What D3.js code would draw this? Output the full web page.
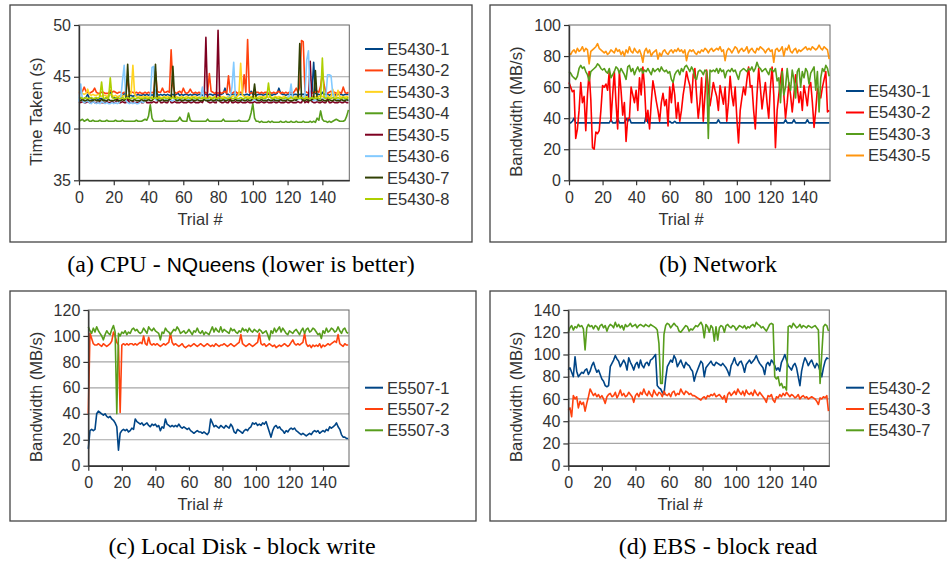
<!DOCTYPE html>
<html lang="en">
<head>
<meta charset="UTF-8">
<title>Instance performance variation</title>
<script src="https://d3js.org/d3.v7.min.js"></script>
<style>
  body { margin: 0; background: #fff; }
  svg text { font-family: "Liberation Sans", Arial, sans-serif; fill: #333; }
  .caption { font-family: "Liberation Serif", "Times New Roman", serif; fill: #000; }
</style>
</head>
<body>
<svg width="947" height="561"></svg>
<script>
const trials = d3.range(156);

// (a) CPU - NQueens, time taken (s)
const cpuNames = ["E5430-1", "E5430-2", "E5430-3", "E5430-4", "E5430-5", "E5430-6", "E5430-7", "E5430-8"];
const cpuE1 = [42.9,42.9,42.8,42.9,43.0,43.3,42.9,42.9,42.8,42.9, 42.9,42.8,42.9,42.9,42.8,42.9,43.0,43.1,43.5,43.1,
  43.0,42.9,43.0,43.1,43.2,43.1,43.4,43.2,43.1,43.2, 43.2,43.1,43.2,43.2,43.3,43.2,43.2,43.3,43.2,43.3,
  43.2,43.3,43.2,43.3,43.7,43.3,43.2,43.3,43.2,43.3, 43.2,43.3,43.2,43.2,43.3,43.2,43.3,43.4,43.2,43.3,
  43.2,43.3,43.3,43.2,43.3,43.2,43.3,43.3,43.2,43.3, 43.3,43.2,43.3,43.3,43.2,43.3,43.3,43.2,43.3,43.3,
  43.2,43.3,43.3,43.4,43.9,43.3,43.3,43.2,43.3,43.3, 43.3,43.2,43.3,43.3,43.3,43.2,43.3,43.3,43.2,43.6,
  43.3,43.3,43.2,43.3,43.3,43.3,43.2,43.3,43.3,43.3, 43.3,43.2,43.3,43.3,43.4,43.9,43.4,43.3,43.3,43.2,
  43.3,43.3,43.3,43.2,43.3,43.3,43.2,43.3,43.3,43.3, 43.3,43.2,43.3,43.6,43.4,46.4,43.4,43.3,43.3,43.2,
  43.5,43.3,43.3,43.3,43.2,43.3,43.3,43.3,43.2,43.3, 43.3,43.3,43.2,43.3,43.3,43.3];
const cpuE2 = [43.4,43.5,43.6,44.0,43.6,43.5,43.4,43.5,43.6,43.9, 43.5,43.4,43.4,43.5,43.5,43.4,43.4,43.4,43.7,43.5,
  43.6,43.5,43.4,43.5,43.5,43.4,43.5,43.5,44.8,43.6, 43.5,43.5,43.4,43.5,43.4,43.5,43.4,43.4,43.5,43.4,
  43.5,43.4,43.5,43.4,45.5,43.6,43.5,43.5,43.9,43.5, 43.5,43.6,43.5,47.6,44.2,43.5,43.4,43.5,43.6,43.4,
  43.9,43.5,43.4,43.5,43.8,43.5,43.4,43.5,43.4,43.5, 43.4,43.5,43.6,43.4,43.5,45.3,43.6,43.5,43.4,43.5,
  43.4,43.5,43.4,43.5,43.6,43.4,45.1,43.5,43.4,43.5, 43.6,43.4,43.5,43.5,43.4,45.2,43.5,48.6,43.5,43.4,
  43.5,43.4,43.5,43.5,43.4,43.5,43.4,43.5,43.5,43.4, 43.5,43.4,43.5,43.4,43.5,43.6,43.4,43.5,43.4,43.5,
  43.4,43.5,43.5,43.4,43.6,43.9,43.5,44.0,48.5,48.4, 43.6,43.5,43.4,43.5,43.4,43.5,43.5,43.6,43.5,44.1,
  45.4,44.2,43.5,43.4,43.5,43.6,43.4,43.5,43.4,43.5, 43.5,43.4,44.0,43.5,43.4,43.5];
const cpuE3 = [43.5,43.6,43.4,43.3,43.4,43.8,43.3,43.2,43.3,43.2, 43.2,43.3,43.2,43.1,43.2,43.2,43.1,43.2,43.3,43.2,
  43.1,43.2,43.1,43.1,43.2,43.1,43.2,43.1,43.2,43.3, 43.4,46.1,43.3,43.1,43.0,43.1,43.0,43.1,43.0,43.1,
  43.0,43.1,43.0,43.1,43.2,43.0,43.1,43.0,43.0,43.1, 43.0,43.1,43.0,43.0,43.1,43.0,43.1,43.0,43.0,43.1,
  43.0,43.0,43.1,43.0,43.0,43.1,43.0,43.1,43.0,43.0, 43.1,43.0,43.1,43.0,43.0,43.1,43.0,43.0,43.1,43.0,
  43.0,43.1,43.0,43.1,43.0,43.0,43.1,43.0,43.1,43.2, 43.0,43.1,43.3,46.3,43.2,43.1,43.0,43.1,43.0,43.1,
  43.0,43.1,43.0,43.0,43.1,43.0,43.1,43.0,43.1,43.0, 43.1,43.0,43.0,43.1,43.0,43.1,43.0,43.0,43.1,43.0,
  43.0,43.1,43.0,43.1,43.0,43.1,43.0,43.1,43.0,43.0, 43.1,43.0,43.1,43.0,43.1,43.0,43.1,43.0,43.1,43.2,
  43.1,43.0,43.1,43.2,43.0,43.1,43.8,43.1,43.0,43.7, 43.1,43.0,43.1,43.0,43.1,43.0];
const cpuE4 = [40.7,40.8,40.9,40.7,40.8,40.9,40.7,40.7,40.8,40.7, 40.7,40.7,40.8,40.7,40.7,40.7,40.8,40.7,40.7,40.7,
  40.7,40.8,40.7,40.7,40.7,40.8,40.7,40.7,40.7,40.7, 40.7,40.7,40.7,40.8,40.7,40.7,40.7,40.8,40.9,40.8,
  41.2,42.3,41.0,40.7,40.7,40.7,40.7,40.7,40.7,40.8, 40.7,40.7,40.7,40.7,40.7,40.7,40.7,40.8,41.1,40.8,
  40.7,40.7,40.7,41.5,40.8,40.7,40.7,40.7,40.7,40.7, 40.7,40.7,40.7,40.7,40.9,40.7,40.7,40.7,40.7,40.7,
  40.7,40.7,40.7,40.9,40.7,40.7,40.7,40.7,40.7,40.7, 40.7,40.7,40.8,40.7,40.7,40.7,40.7,40.7,40.9,41.5,
  42.4,41.0,40.7,40.7,40.6,40.7,40.6,40.6,40.6,40.7, 40.6,40.7,40.6,40.6,40.6,40.6,40.7,40.6,40.6,40.7,
  40.6,40.6,40.7,40.6,40.6,40.7,40.6,40.6,40.6,40.7, 40.6,40.6,40.6,40.7,40.6,40.7,40.6,41.0,40.8,41.7,
  40.9,40.7,40.7,40.6,40.7,40.6,40.7,40.8,40.9,40.8, 40.7,40.7,40.7,40.8,41.2,41.8];
const cpuE5 = [42.6,42.5,42.6,42.5,42.5,42.6,42.5,42.5,42.6,42.5, 42.5,42.5,42.6,42.5,42.5,42.5,42.6,42.5,42.5,42.6,
  42.5,42.5,42.9,42.5,42.5,42.6,42.5,42.5,42.9,42.5, 42.5,42.6,42.5,42.5,42.5,42.6,42.5,42.5,42.9,42.5,
  42.5,42.5,42.5,42.6,42.5,42.5,42.9,42.5,42.5,42.6, 42.5,42.5,42.9,42.5,42.5,42.6,42.5,42.5,42.5,42.6,
  42.5,42.5,42.5,42.6,42.5,42.5,42.6,42.5,42.5,42.5, 42.6,42.5,42.9,48.8,42.6,42.5,42.5,42.6,42.5,42.5,
  49.5,42.6,42.5,42.5,42.6,42.5,42.5,42.9,42.5,42.5, 42.6,42.5,42.5,42.6,42.5,42.5,42.5,42.6,42.5,42.5,
  42.5,42.6,42.5,42.5,42.5,42.6,42.5,42.5,42.6,42.5, 42.5,42.5,42.6,42.5,42.5,42.6,42.5,42.5,42.5,42.6,
  42.5,42.5,42.6,42.5,42.5,42.5,42.6,42.5,42.5,42.9, 42.5,42.6,42.5,46.5,42.6,42.5,42.5,42.6,42.5,42.5,
  42.6,42.5,42.5,42.9,42.5,42.5,42.6,42.5,42.5,42.5, 42.6,42.5,42.5,42.6,42.5,42.5];
const cpuE6 = [42.6,44.3,42.7,42.5,42.6,42.7,42.5,42.4,42.6,42.5, 42.4,42.5,42.4,42.6,42.5,42.4,42.5,42.4,42.4,42.5,
  42.4,42.5,42.4,42.5,42.8,44.6,46.1,42.7,42.5,42.4, 42.5,42.4,42.5,42.4,42.4,42.5,42.6,42.5,42.8,42.7,
  42.8,42.9,45.9,46.0,42.8,42.7,42.8,42.7,42.8,42.7, 42.8,42.7,42.8,42.7,42.7,42.8,42.7,42.8,42.7,42.8,
  42.7,42.8,42.7,42.8,42.7,42.7,42.8,42.7,42.8,42.9, 43.1,44.0,42.8,42.7,42.8,42.7,42.8,42.7,42.8,42.7,
  42.8,42.7,42.8,42.7,42.8,42.9,43.0,43.1,44.0,46.4, 42.9,42.8,42.7,42.8,42.7,42.8,42.7,42.8,42.7,42.8,
  42.7,42.8,42.7,42.8,42.7,42.8,42.7,42.8,42.7,42.8, 42.7,42.8,42.7,42.8,42.7,42.8,42.7,42.8,42.7,42.9,
  43.0,43.1,44.3,42.9,42.8,42.7,42.8,42.9,42.8,42.9, 43.3,46.6,47.5,42.9,42.8,42.7,42.8,42.7,42.8,42.9,
  42.8,42.9,43.0,45.2,45.2,45.1,43.3,42.8,42.7,42.8, 42.7,42.8,42.7,42.8,42.7,42.8];
const cpuE7 = [42.7,42.7,42.8,42.7,42.7,42.8,42.7,42.7,42.7,42.8, 42.7,42.7,42.7,42.8,42.7,42.7,42.7,42.8,42.7,42.7,
  42.7,42.8,42.7,42.7,42.7,42.8,42.7,42.9,46.2,42.8, 42.7,42.7,42.8,42.7,42.7,42.7,42.8,42.7,42.7,42.7,
  42.8,42.7,42.7,42.9,46.2,42.8,42.7,42.7,42.8,42.7, 42.7,42.7,42.8,42.9,46.0,43.0,42.7,42.7,42.8,42.7,
  42.7,42.8,42.7,42.7,42.7,42.8,42.7,42.7,42.8,42.7, 42.7,42.7,42.8,42.7,42.7,42.7,42.8,42.7,42.7,42.8,
  42.7,42.7,42.7,42.8,42.7,42.7,42.8,42.7,42.7,42.7, 42.8,42.7,42.7,42.7,42.8,42.7,42.7,42.8,42.7,42.7,
  42.9,44.3,42.8,42.7,42.7,42.8,42.7,42.7,42.7,42.8, 42.7,42.7,42.8,42.7,42.7,42.7,42.8,42.7,42.7,42.7,
  42.8,42.7,42.7,42.7,42.8,42.7,43.0,48.2,42.9,42.7, 42.7,42.8,42.7,42.7,42.8,42.9,45.6,42.8,42.7,42.7,
  42.8,42.7,42.7,42.7,42.8,42.7,42.7,42.8,42.7,42.7, 42.7,42.8,42.7,42.7,42.8,42.7];
const cpuE8 = [42.9,43.0,42.9,42.9,43.0,42.9,42.9,43.0,42.9,42.9, 43.0,42.9,43.1,44.5,42.9,42.9,43.0,42.9,44.9,43.0,
  42.9,42.9,43.0,42.9,42.9,43.0,42.9,42.9,43.0,42.9, 42.9,43.0,42.9,42.9,43.0,42.9,42.9,42.9,43.0,42.9,
  42.9,43.0,42.9,42.9,43.0,42.9,43.0,42.9,42.9,43.0, 42.9,42.9,43.0,42.9,43.0,42.9,42.9,43.0,42.9,42.9,
  43.0,42.9,42.9,43.0,42.9,42.9,43.0,42.9,42.9,43.0, 42.9,42.9,43.0,42.9,42.9,43.0,42.9,42.9,43.0,42.9,
  42.9,43.0,42.9,42.9,43.0,42.9,42.9,43.0,42.9,42.9, 43.0,42.9,42.9,43.0,42.9,42.9,43.0,42.9,42.9,43.0,
  42.9,42.9,43.0,42.9,42.9,43.0,42.9,42.9,43.0,44.4, 43.0,42.9,42.9,43.0,42.9,42.9,43.0,42.9,42.9,43.0,
  42.9,42.9,43.0,42.9,42.9,43.0,42.9,42.9,43.0,42.9, 42.9,43.0,42.9,42.9,43.0,42.9,42.9,43.0,42.9,42.9,
  46.8,43.0,42.9,43.0,42.9,42.9,43.0,42.9,42.9,43.0, 42.9,42.9,43.0,42.9,42.9,43.0];

// (b) Network bandwidth (MB/s)
const netNames = ["E5430-1", "E5430-2", "E5430-3", "E5430-5"];
const netE1 = [37,37,38,40,37,37,37,37,37,37, 37,37,37,37,37,37,37,37,37,37, 37,37,37,37,37,39,37,37,37,40,
  37,37,37,37,40,38,40,37,37,37, 37,37,37,37,37,37,42,37,37,37, 37,37,37,37,37,37,37,37,37,37,
  38,37,37,38,37,37,37,37,37,37, 37,37,37,37,37,37,37,37,37,37, 37,37,37,37,37,37,37,37,37,39,
  37,37,37,37,37,37,37,37,37,37, 37,37,37,37,37,37,37,37,37,37, 37,37,37,37,37,37,37,37,37,37,
  37,37,37,37,37,37,37,37,37,39, 37,37,37,37,39,37,37,37,37,37, 37,37,39,37,37,37,37,37,37,37,
  37,37,37,37,37,37];
const netE2 = [63,60,57,58,27,33,45,63,50,54, 32,55,70,52,21,20,31,30,32,45, 61,60,62,58,70,38,55,70,50,33,
  70,58,42,50,25,40,40,60,55,50, 58,45,66,55,73,60,38,45,33,50, 64,58,51,45,38,50,56,48,52,35,
  60,50,63,55,40,50,38,45,55,62, 70,65,61,50,68,72,55,40,50,66, 38,55,71,60,48,55,63,58,54,45,
  61,55,49,60,38,50,67,55,48,60, 40,24,45,53,60,55,65,73,60,61, 45,33,55,72,60,46,55,63,50,40,
  60,73,55,21,45,55,65,72,55,40, 50,63,55,44,55,68,60,50,57,45, 61,55,48,60,63,50,34,45,59,55,
  53,60,65,70,44,45];
const netE3 = [70,69,67,66,65,67,72,74,72,73, 70,68,64,70,71,72,73,75,74,72, 71,72,70,69,72,66,68,70,73,72,
  69,72,70,68,65,73,74,70,72,68, 71,73,70,72,69,71,70,72,70,68, 72,70,71,72,70,73,71,70,71,69,
  70,65,63,68,70,71,68,72,70,73, 74,72,70,73,71,66,65,70,71,70, 68,71,70,27,71,70,71,70,72,69,
  72,70,71,66,70,71,70,72,70,71, 68,65,70,71,72,71,70,72,71,73, 70,72,76,73,72,70,71,72,70,68,
  72,71,70,72,64,66,50,70,55,60, 72,62,58,71,65,53,70,72,60,70, 66,72,70,62,69,71,73,58,70,44,
  66,72,70,74,72,67];
const netE5 = [82,81,83,84,82,85,83,84,86,83, 85,84,75,83,84,85,86,88,85,84, 83,82,83,81,82,84,83,82,85,83,
  84,81,83,80,84,82,86,83,82,85, 83,82,84,81,76,83,85,82,84,80, 82,83,84,78,82,80,83,84,82,81,
  83,84,82,84,83,85,83,84,82,84, 77,82,84,83,84,82,81,83,82,84, 83,85,84,82,84,85,83,84,85,84,
  86,83,84,77,83,85,84,82,84,86, 85,82,84,85,83,84,86,82,84,85, 83,82,85,84,86,85,84,82,84,85,
  83,84,76,84,85,83,84,86,80,85, 84,87,83,82,84,85,82,84,83,84, 85,86,84,85,84,86,85,84,85,87,
  85,84,86,85,84,78];

// (c) Local disk block write (MB/s)
const diskNames = ["E5507-1", "E5507-2", "E5507-3"];
const diskE1 = [13,27,28,27,28,40,42,41,40,39, 40,38,37,38,36,35,33,30,12,25, 27,28,27,28,26,27,29,28,36,34,
  33,32,33,31,32,33,31,30,32,31, 32,30,31,27,30,29,36,32,31,30, 31,30,31,30,32,30,29,30,29,28,
  29,27,26,25,26,27,26,26,25,26, 25,24,26,36,33,30,31,30,29,31, 30,29,31,30,29,32,30,26,25,28,
  27,26,25,27,28,27,29,30,33,32, 33,31,32,31,33,32,34,30,26,22, 27,30,31,29,30,28,27,25,27,26,
  28,29,28,29,27,26,25,24,25,24, 23,24,25,24,26,27,26,27,25,26, 27,26,28,27,30,29,30,31,33,30,
  28,24,22,22,21,21];
const diskE2 = [40,102,98,94,93,93,94,93,92,94, 93,92,93,94,96,103,100,95,93,41, 93,94,93,94,93,94,94,93,94,93,
  94,95,94,100,94,93,99,94,93,94, 93,94,93,92,93,94,93,94,95,102, 95,93,94,93,92,93,94,92,91,92,
  93,92,93,94,93,92,93,94,93,92, 93,94,93,92,93,92,94,93,92,93, 93,94,93,92,93,94,93,92,93,94,
  95,101,94,93,92,93,94,93,92,93, 94,95,102,94,93,94,92,93,94,93, 92,93,91,92,93,92,93,94,93,92,
  93,95,97,94,93,94,93,94,95,102, 94,92,93,91,93,92,93,92,94,91, 93,92,93,94,93,94,95,96,95,101,
  94,93,92,94,93,93];
const diskE3 = [107,104,102,106,103,107,104,102,100,97, 101,104,102,101,105,108,103,40,102,100,
  103,102,104,101,103,102,105,106,104,105, 103,102,103,106,104,102,107,105,104,106,
  104,103,102,97,103,102,106,104,103,101, 103,105,104,107,105,102,103,104,102,103,
  105,103,101,104,103,106,103,102,104,101, 103,102,101,104,107,103,106,104,103,107,
  103,105,104,103,102,106,104,105,103,102, 104,103,106,104,105,103,106,104,103,105,
  104,103,105,104,102,103,104,101,97,104, 102,106,103,105,107,103,106,104,102,101,
  104,103,102,104,105,103,101,104,106,102, 105,106,103,104,106,105,103,101,102,98,
  104,102,106,103,104,106,105,103,104,107, 104,102,105,106,103,102];

// (d) EBS block read (MB/s)
const ebsNames = ["E5430-2", "E5430-3", "E5430-7"];
const ebsE2 = [86,88,84,80,98,85,80,82,84,83, 86,87,82,85,90,93,88,84,86,82, 78,76,72,71,72,89,92,95,99,96,
  94,89,92,95,92,86,97,93,90,86, 91,93,88,95,90,88,92,93,90,95, 96,98,100,72,70,69,66,64,78,89,
  92,95,93,99,96,89,92,95,91,88, 93,91,90,87,85,76,82,86,90,94, 92,80,88,90,92,94,91,90,93,92,
  91,90,92,90,88,85,81,90,93,97, 92,90,93,94,90,84,91,93,95,92, 94,96,99,95,92,90,88,82,91,93,
  90,95,93,90,86,88,85,93,96,100, 95,90,88,86,90,92,88,80,72,85, 92,97,94,90,93,95,91,88,92,90,
  85,80,88,94,97,96];
const ebsE3 = [50,52,44,63,60,62,52,58,55,57, 49,56,62,69,66,63,65,62,64,61, 63,60,56,62,64,65,62,63,66,61,
  64,68,63,65,62,63,66,64,62,57, 63,65,62,66,64,69,65,63,67,64, 62,68,65,63,66,65,62,67,64,63,
  65,62,66,67,63,65,64,69,66,64, 67,66,64,65,63,63,62,61,60,59, 61,62,60,63,62,64,63,65,62,63,
  64,62,60,63,57,64,66,63,65,67, 64,69,66,64,67,63,68,65,64,66, 63,68,65,63,66,64,62,60,57,63,
  62,64,59,57,62,61,64,62,65,63, 66,64,62,64,63,61,62,64,60,62, 63,61,62,60,61,62,61,60,58,55,
  61,60,62,61,63,49];
const ebsE7 = [120,124,126,122,125,124,127,125,126,123, 104,124,127,125,126,123,126,125,122,126,
  127,124,126,121,125,127,126,124,129,125, 127,124,126,122,127,125,126,128,125,126,
  127,124,126,127,126,125,127,126,125,127, 126,125,124,122,110,74,74,118,126,128,
  127,124,126,128,126,125,121,120,122,124, 126,125,121,123,122,124,126,125,127,129,
  126,115,127,125,120,126,124,112,125,113, 124,126,125,120,126,127,125,124,126,125,
  122,124,126,125,124,126,123,125,124,126, 127,125,129,127,126,124,125,123,121,124,
  127,128,127,80,78,80,72,74,70,71, 68,125,126,124,128,126,124,125,127,124,
  126,125,124,126,125,124,125,126,124,122, 74,100,125,127,126,121];

const panels = [
  { box: [10, 5, 472, 242], plot: [79, 25, 349.3, 180.3], yDomain: [35, 50], yTicks: [35, 40, 45, 50],
    yTitle: "Time Taken (s)", xTitleX: 200, names: cpuNames,
    values: [cpuE1, cpuE2, cpuE3, cpuE4, cpuE5, cpuE6, cpuE7, cpuE8],
    colors: ["#004586", "#ff420e", "#ffd320", "#579d1c", "#7e0021", "#83caff", "#314004", "#aecf00"],
    legend: [365, 49, 21.43] },
  { box: [490, 5, 946, 242], plot: [569, 25, 830, 180.3], yDomain: [0, 100], yTicks: [0, 20, 40, 60, 80, 100],
    yTitle: "Bandwidth (MB/s)", xTitleX: 681, names: netNames,
    values: [netE1, netE2, netE3, netE5],
    colors: ["#004586", "#ff0000", "#579d1c", "#ff950e"],
    legend: [846, 91, 21.5] },
  { box: [10, 291, 476, 521], plot: [88.3, 310, 349, 465.7], yDomain: [0, 120], yTicks: [0, 20, 40, 60, 80, 100, 120],
    yTitle: "Bandwidth (MB/s)", xTitleX: 200, names: diskNames,
    values: [diskE1, diskE2, diskE3],
    colors: ["#004586", "#ff420e", "#579d1c"],
    legend: [365, 387.7, 21.3] },
  { box: [490, 291, 946, 521], plot: [568.3, 310, 829.3, 465.7], yDomain: [0, 140], yTicks: [0, 20, 40, 60, 80, 100, 120, 140],
    yTitle: "Bandwidth (MB/s)", xTitleX: 680, names: ebsNames,
    values: [ebsE2, ebsE3, ebsE7],
    colors: ["#004586", "#ff420e", "#579d1c"],
    legend: [846, 387.7, 21.3] }
];

const svg = d3.select("svg");
svg.append("rect").attr("width", 947).attr("height", 561).attr("fill", "#fff");

panels.forEach(p => {
  const [bx0, by0, bx1, by1] = p.box;
  const [left, top, right, bottom] = p.plot;
  svg.append("rect")
    .attr("x", bx0).attr("y", by0).attr("width", bx1 - bx0).attr("height", by1 - by0)
    .attr("fill", "none").attr("stroke", "#444").attr("stroke-width", 1.3);

  const x = d3.scaleLinear().domain([0, 155.5]).range([left, right]);
  const y = d3.scaleLinear().domain(p.yDomain).range([bottom, top]);
  const g = svg.append("g");

  // grid
  g.selectAll(".grid").data(p.yTicks.slice(1, -1)).enter().append("line")
    .attr("x1", left).attr("x2", right)
    .attr("y1", d => y(d)).attr("y2", d => y(d))
    .attr("stroke", "#a6a6a6").attr("stroke-width", 1.2);

  // plot frame
  g.append("rect").attr("x", left).attr("y", top)
    .attr("width", right - left).attr("height", bottom - top)
    .attr("fill", "none").attr("stroke", "#666").attr("stroke-width", 1);

  // series
  const line = d3.line().x((d, i) => x(trials[i])).y(d => y(d));
  p.values.forEach((vals, i) => {
    g.append("path").datum(vals)
      .attr("fill", "none").attr("stroke", p.colors[i])
      .attr("stroke-width", 1.6).attr("stroke-linejoin", "round")
      .attr("d", line);
  });

  // axes
  const xAxis = g.append("g").attr("transform", `translate(0,${bottom})`)
    .call(d3.axisBottom(x).tickValues(d3.range(0, 141, 20)).tickSizeInner(5).tickSizeOuter(0).tickPadding(6));
  const yAxis = g.append("g").attr("transform", `translate(${left},0)`)
    .call(d3.axisLeft(y).tickValues(p.yTicks).tickSizeInner(5).tickSizeOuter(0).tickPadding(3));
  [xAxis, yAxis].forEach(a => {
    a.select(".domain").attr("stroke", "#333").attr("stroke-width", 1.4);
    a.selectAll(".tick line").attr("stroke", "#333").attr("stroke-width", 1.2);
    a.selectAll(".tick text").attr("font-size", 16).attr("fill", "#333")
      .style("font-family", "'Liberation Sans', Arial, sans-serif");
  });

  // axis titles
  g.append("text").attr("x", p.xTitleX).attr("y", bottom + 44.5)
    .attr("text-anchor", "middle").attr("font-size", 16.5).text("Trial #");
  g.append("text")
    .attr("transform", `translate(${bx0 + 26},${(top + bottom) / 2 + 9}) rotate(-90)`)
    .attr("text-anchor", "middle").attr("dy", "0.35em").attr("font-size", 16.5).text(p.yTitle);

  // legend
  const [lx, ly, ldy] = p.legend;
  p.names.forEach((name, i) => {
    const yy = ly + i * ldy;
    g.append("line").attr("x1", lx).attr("x2", lx + 18).attr("y1", yy).attr("y2", yy)
      .attr("stroke", p.colors[i]).attr("stroke-width", 2);
    g.append("text").attr("x", lx + 22).attr("y", yy).attr("dy", "0.36em")
      .attr("font-size", 16.5).text(name);
  });
});

// sub-figure captions
const capA = svg.append("text").attr("class", "caption").attr("x", 241).attr("y", 272)
  .attr("text-anchor", "middle").attr("font-size", 24);
capA.append("tspan").text("(a) CPU - ");
capA.append("tspan").style("font-family", "'Liberation Sans', Arial, sans-serif").attr("font-size", 21).text("NQueens");
capA.append("tspan").text(" (lower is better)");
svg.append("text").attr("class", "caption").attr("x", 718).attr("y", 272)
  .attr("text-anchor", "middle").attr("font-size", 24).text("(b) Network");
svg.append("text").attr("class", "caption").attr("x", 242).attr("y", 554)
  .attr("text-anchor", "middle").attr("font-size", 24).text("(c) Local Disk - block write");
svg.append("text").attr("class", "caption").attr("x", 718).attr("y", 554)
  .attr("text-anchor", "middle").attr("font-size", 24).text("(d) EBS - block read");
</script>
</body>
</html>
